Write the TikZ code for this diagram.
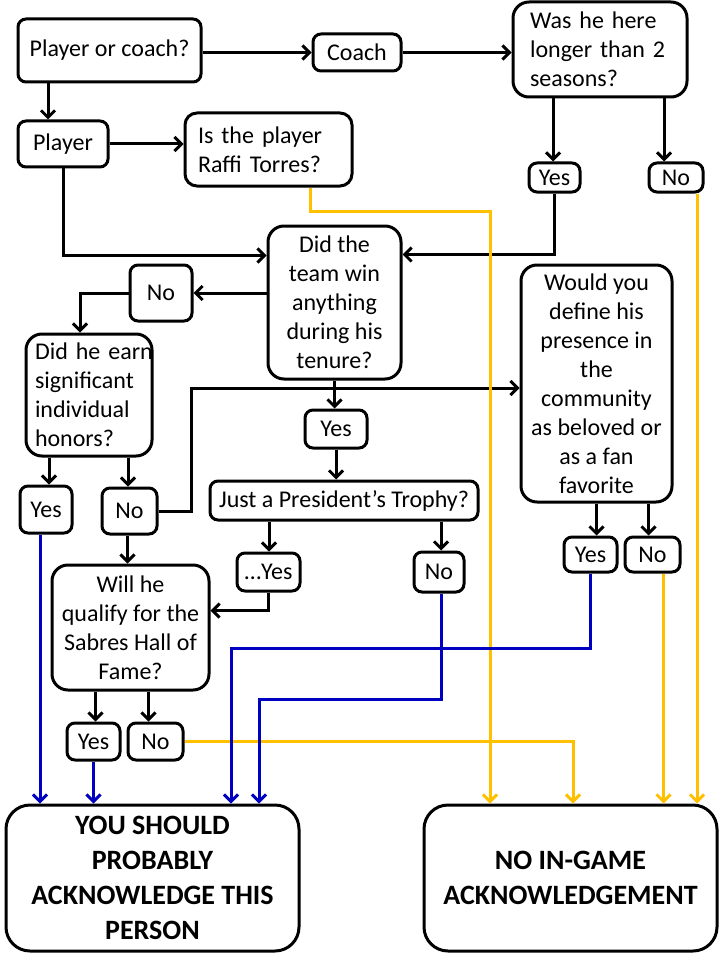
\documentclass[tikz,border=0pt]{standalone}
\usepackage{fontspec}
\setmainfont{Carlito}
\usetikzlibrary{arrows.meta}
\definecolor{fcblue}{RGB}{0,0,192}
\definecolor{fcgold}{RGB}{255,192,0}
\begin{document}
\begin{tikzpicture}[x=1pt,y=-1pt,
  box/.style={draw, line width=3pt, rounded corners=8pt, inner sep=0pt, align=center,
    font=\fontsize{24}{29}\selectfont},
  qbox/.style={box, rounded corners=16pt},
  bigbox/.style={box, rounded corners=24pt, font=\bfseries\fontsize{28}{35}\selectfont},
  conn/.style={line width=3pt, -{Straight Barb[length=7pt,width=14pt]}},
  yline/.style={conn, fcgold, line width=3pt},
  bline/.style={conn, fcblue, line width=3pt},
]
\fill[white] (0,0) rectangle (720,960);
\useasboundingbox (0,0) rectangle (720,960);

% nodes
\node[box, minimum width=183pt, minimum height=63pt] (poc) at (109.5,50.5) {Player or coach?};
\node[box, minimum width=88pt, minimum height=37pt] (coach) at (357,52.5) {Coach};
\node[qbox, minimum width=174pt, minimum height=95pt, text width=140pt, align=left] (was) at (600,49.5) {\mbox{Was he here}\\\mbox{longer than 2}\\\mbox{seasons?}};
\node[box, minimum width=90pt, minimum height=46pt] (player) at (63,144) {Player};
\node[qbox, rounded corners=12pt, minimum width=167pt, minimum height=73pt, text width=141pt, align=left] (raffi) at (268.5,149.5) {\mbox{Is the player}\\\mbox{Raffi Torres?}};
\node[box, minimum width=51pt, minimum height=29pt] (cyes) at (554.5,177.5) {Yes};
\node[box, minimum width=54pt, minimum height=29pt] (cno) at (676,177.5) {No};
\node[qbox, minimum width=133pt, minimum height=153pt] (team) at (334.5,302.5) {Did the\\team win\\anything\\during his\\tenure?};
\node[box, minimum width=62pt, minimum height=56pt] (tno) at (161,293) {No};
\node[qbox, minimum width=126pt, minimum height=122pt, text width=108pt, align=left] (honors) at (89,395) {\mbox{Did he earn}\\\mbox{significant}\\\mbox{individual}\\\mbox{honors?}};
\node[box, minimum width=52pt, minimum height=47pt] (hyes) at (46,509.5) {Yes};
\node[box, minimum width=55pt, minimum height=46pt] (hno) at (129.5,511) {No};
\node[box, minimum width=62pt, minimum height=38pt] (tyes) at (336,429) {Yes};
\node[box, minimum width=268pt, minimum height=39pt] (troph) at (344,500.5) {Just a President’s Trophy?};
\node[qbox, minimum width=151pt, minimum height=237pt] (comm) at (596.5,383.5) {Would you\\define his\\presence in\\the\\community\\as beloved or\\as a fan\\favorite};
\node[box, minimum width=53pt, minimum height=35pt] (myes) at (590.5,554.5) {Yes};
\node[box, minimum width=55pt, minimum height=35pt] (mno) at (652.5,554.5) {No};
\node[box, minimum width=63pt, minimum height=38pt] (dyes) at (268.5,572) {…Yes};
\node[box, minimum width=50pt, minimum height=40pt] (pno) at (439,572) {No};
\node[qbox, minimum width=157pt, minimum height=125pt] (hof) at (130.5,627.5) {Will he\\qualify for the\\Sabres Hall of\\Fame?};
\node[box, minimum width=53pt, minimum height=37pt] (fyes) at (93.5,741.5) {Yes};
\node[box, minimum width=55pt, minimum height=37pt] (fno) at (155.5,741.5) {No};
\node[bigbox, minimum width=293pt, minimum height=146pt] (ack) at (152.5,878) {YOU SHOULD\\PROBABLY\\ACKNOWLEDGE THIS\\PERSON};
\node[bigbox, minimum width=293pt, minimum height=146pt] (noack) at (570.5,878) {NO IN-GAME\\ACKNOWLEDGEMENT};

% bend coordinates
\coordinate (hk) at (191,388);
\coordinate (y1) at (490,211);
\coordinate (b3) at (231,648);
\coordinate (b4) at (259,699);

% black connectors
\draw[conn] (poc.east |- coach.west) -- (coach.west);
\draw[conn] (coach.east) -- (was.west |- coach.east);
\draw[conn] ([xshift=-15pt]player.north |- poc.south) -- ([xshift=-15pt]player.north);
\draw[conn] (player.east) -- (raffi.west |- player.east);
\draw[conn] (player.south) |- ([yshift=-31pt]team.north west);
\draw[conn] ([xshift=-47pt]was.south) -- ([xshift=-47pt]was.south |- cyes.north);
\draw[conn] ([xshift=64pt]was.south) -- ([xshift=64pt]was.south |- cno.north);
\draw[conn] (cyes.south) |- ([yshift=-30pt]team.north east);
\draw[conn] (team.west |- tno.east) -- (tno.east);
\draw[conn] (tno.west) -| ([xshift=-9pt]honors.north);
\draw[conn] (team.south) -- (team.south |- tyes.north);
\draw[conn] (tyes.south) -- (tyes.south |- troph.north);
\draw[conn] ([xshift=-40pt]honors.south) -- ([xshift=-40pt]honors.south |- hyes.north);
\draw[conn] ([xshift=39pt]honors.south) -- ([xshift=39pt]honors.south |- hno.north);
\draw[conn] (hno.east) -| (hk) -- (comm.west |- hk);
\draw[conn] ([xshift=-2pt]hno.south) -- ([xshift=-2pt]hno.south |- hof.north);
\draw[conn] ([xshift=-75pt]troph.south) -- ([xshift=-75pt]troph.south |- dyes.north);
\draw[conn] ([xshift=97pt]troph.south) -- ([xshift=97pt]troph.south |- pno.north);
\draw[conn] (dyes.south) |- ([yshift=17pt]hof.east);
\draw[conn] ([xshift=-35pt]hof.south) -- ([xshift=-35pt]hof.south |- fyes.north);
\draw[conn] ([xshift=18pt]hof.south) -- ([xshift=18pt]hof.south |- fno.north);
\draw[conn] (comm.south) -- (comm.south |- myes.north);
\draw[conn] ([xshift=52pt]comm.south) -- ([xshift=52pt]comm.south |- mno.north);

% gold connectors
\draw[yline] ([xshift=42pt]raffi.south) |- (y1) -- (y1 |- noack.north);
\draw[yline] ([xshift=21pt]cno.south) -- ([xshift=21pt]cno.south |- noack.north);
\draw[yline] ([xshift=11pt]mno.south) -- ([xshift=11pt]mno.south |- noack.north);
\draw[yline] (fno.east) -| ([xshift=2.5pt]noack.north);

% blue connectors
\draw[bline] ([xshift=-6pt]hyes.south) -- ([xshift=-6pt]hyes.south |- ack.north);
\draw[bline] (fyes.south) -- (fyes.south |- ack.north);
\draw[bline] (myes.south) |- (b3) -- (b3 |- ack.north);
\draw[bline] ([xshift=2pt]pno.south) |- (b4) -- (b4 |- ack.north);
\end{tikzpicture}
\end{document}
